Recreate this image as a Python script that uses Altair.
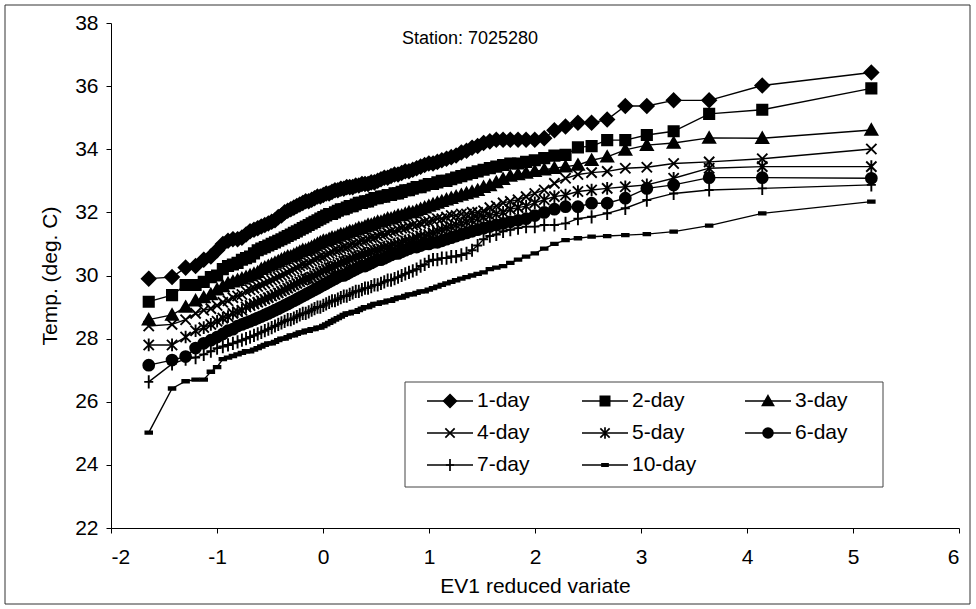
import altair as alt
import pandas as pd

# EV1 reduced variate (plotting positions), same for all series
x_ev1 = [-1.644, -1.424, -1.296, -1.202, -1.125, -1.058, -0.999, -0.945, -0.896, -0.850,
         -0.806, -0.765, -0.726, -0.688, -0.651, -0.616, -0.582, -0.549, -0.516, -0.484,
         -0.453, -0.422, -0.392, -0.362, -0.333, -0.304, -0.275, -0.247, -0.219, -0.191,
         -0.163, -0.135, -0.107, -0.080, -0.052, -0.025, 0.003, 0.030, 0.058, 0.085,
         0.113, 0.140, 0.168, 0.196, 0.224, 0.252, 0.280, 0.309, 0.338, 0.367,
         0.396, 0.425, 0.455, 0.485, 0.516, 0.547, 0.578, 0.610, 0.642, 0.675,
         0.708, 0.742, 0.776, 0.811, 0.847, 0.883, 0.921, 0.959, 0.998, 1.038,
         1.079, 1.121, 1.165, 1.210, 1.256, 1.305, 1.354, 1.406, 1.459, 1.515,
         1.574, 1.635, 1.699, 1.767, 1.840, 1.916, 1.998, 2.087, 2.183, 2.288,
         2.405, 2.534, 2.681, 2.852, 3.055, 3.308, 3.643, 4.144, 5.173]

series_names = ["1-day", "2-day", "3-day", "4-day", "5-day", "6-day", "7-day", "10-day"]

t_1day = [29.9, 29.95, 30.25, 30.3, 30.5, 30.6, 30.8, 31.0, 31.1, 31.15,
          31.15, 31.2, 31.3, 31.4, 31.45, 31.5, 31.55, 31.6, 31.65, 31.7,
          31.75, 31.85, 31.9, 32.0, 32.05, 32.1, 32.15, 32.2, 32.25, 32.3,
          32.35, 32.35, 32.4, 32.45, 32.5, 32.5, 32.55, 32.6, 32.6, 32.65,
          32.7, 32.7, 32.75, 32.75, 32.8, 32.8, 32.8, 32.85, 32.85, 32.9,
          32.9, 32.9, 32.95, 32.95, 33.0, 33.05, 33.1, 33.1, 33.15, 33.2,
          33.2, 33.25, 33.3, 33.3, 33.35, 33.4, 33.45, 33.5, 33.55, 33.55,
          33.6, 33.65, 33.7, 33.75, 33.8, 33.9, 33.95, 34.05, 34.1, 34.2,
          34.25, 34.3, 34.3, 34.3, 34.3, 34.3, 34.3, 34.35, 34.6, 34.72,
          34.84, 34.84, 34.94, 35.37, 35.37, 35.55, 35.55, 36.02, 36.43]

t_2day = [29.17, 29.38, 29.7, 29.7, 29.8, 29.95, 30.0, 30.2, 30.3, 30.35,
          30.4, 30.5, 30.55, 30.6, 30.7, 30.8, 30.85, 30.9, 30.95, 31.0,
          31.05, 31.1, 31.15, 31.2, 31.25, 31.3, 31.35, 31.4, 31.45, 31.5,
          31.55, 31.6, 31.65, 31.7, 31.75, 31.8, 31.85, 31.9, 31.95, 31.95,
          32.0, 32.05, 32.1, 32.1, 32.15, 32.2, 32.2, 32.25, 32.3, 32.3,
          32.35, 32.35, 32.4, 32.45, 32.45, 32.5, 32.5, 32.55, 32.55, 32.6,
          32.6, 32.65, 32.7, 32.7, 32.75, 32.8, 32.8, 32.85, 32.9, 32.9,
          32.95, 33.0, 33.0, 33.05, 33.1, 33.15, 33.2, 33.25, 33.3, 33.35,
          33.4, 33.45, 33.5, 33.55, 33.55, 33.6, 33.65, 33.72, 33.8, 33.82,
          34.06, 34.1, 34.29, 34.29, 34.45, 34.57, 35.12, 35.25, 35.93]

t_3day = [28.6, 28.75, 29.0, 29.2, 29.3, 29.4, 29.55, 29.65, 29.75, 29.8,
          29.85, 29.9, 29.95, 30.0, 30.05, 30.1, 30.2, 30.25, 30.3, 30.35,
          30.4, 30.45, 30.5, 30.55, 30.6, 30.6, 30.65, 30.7, 30.75, 30.8,
          30.8, 30.85, 30.9, 30.95, 31.0, 31.05, 31.1, 31.1, 31.15, 31.2,
          31.2, 31.25, 31.3, 31.3, 31.35, 31.4, 31.4, 31.45, 31.5, 31.5,
          31.55, 31.6, 31.6, 31.65, 31.7, 31.7, 31.75, 31.8, 31.8, 31.85,
          31.9, 31.9, 31.95, 32.0, 32.0, 32.05, 32.1, 32.15, 32.2, 32.25,
          32.3, 32.35, 32.4, 32.45, 32.5, 32.55, 32.6, 32.65, 32.7, 32.8,
          32.85, 32.95, 33.05, 33.15, 33.2, 33.25, 33.3, 33.35, 33.4, 33.45,
          33.5, 33.65, 33.76, 33.98, 34.13, 34.2, 34.36, 34.35, 34.61]

t_4day = [28.4, 28.45, 28.6, 28.8, 28.9, 28.95, 29.05, 29.15, 29.2, 29.3,
          29.35, 29.4, 29.5, 29.55, 29.6, 29.65, 29.7, 29.75, 29.8, 29.85,
          29.9, 29.95, 30.0, 30.05, 30.1, 30.15, 30.2, 30.25, 30.3, 30.35,
          30.35, 30.4, 30.45, 30.5, 30.55, 30.6, 30.6, 30.65, 30.7, 30.75,
          30.8, 30.8, 30.85, 30.9, 30.9, 30.95, 31.0, 31.0, 31.05, 31.1,
          31.1, 31.15, 31.2, 31.2, 31.25, 31.3, 31.3, 31.35, 31.4, 31.4,
          31.45, 31.5, 31.5, 31.55, 31.6, 31.6, 31.65, 31.7, 31.7, 31.75,
          31.8, 31.8, 31.85, 31.9, 31.9, 31.95, 31.95, 32.0, 32.0, 32.05,
          32.15, 32.2, 32.3, 32.35, 32.4, 32.5, 32.6, 32.71, 32.92, 33.08,
          33.2, 33.26, 33.3, 33.4, 33.43, 33.55, 33.6, 33.7, 34.01]

t_5day = [27.8, 27.8, 28.05, 28.25, 28.35, 28.45, 28.55, 28.65, 28.7, 28.8,
          28.85, 28.9, 29.0, 29.05, 29.1, 29.15, 29.2, 29.25, 29.3, 29.35,
          29.4, 29.45, 29.5, 29.55, 29.6, 29.65, 29.7, 29.75, 29.8, 29.85,
          29.9, 29.9, 29.95, 30.0, 30.05, 30.1, 30.15, 30.2, 30.25, 30.25,
          30.3, 30.35, 30.4, 30.45, 30.45, 30.5, 30.55, 30.6, 30.6, 30.65,
          30.7, 30.7, 30.75, 30.8, 30.8, 30.85, 30.9, 30.9, 30.95, 31.0,
          31.0, 31.05, 31.1, 31.1, 31.15, 31.2, 31.25, 31.25, 31.3, 31.35,
          31.4, 31.45, 31.5, 31.55, 31.6, 31.65, 31.7, 31.75, 31.8, 31.85,
          31.9, 31.95, 32.0, 32.1, 32.15, 32.2, 32.3, 32.4, 32.5, 32.55,
          32.66, 32.71, 32.76, 32.81, 32.87, 33.08, 33.4, 33.45, 33.45]

t_6day = [27.16, 27.32, 27.43, 27.7, 27.85, 27.95, 28.05, 28.15, 28.25, 28.3,
          28.4, 28.45, 28.5, 28.55, 28.6, 28.65, 28.7, 28.75, 28.8, 28.85,
          28.9, 28.95, 29.0, 29.05, 29.1, 29.15, 29.2, 29.25, 29.3, 29.35,
          29.4, 29.45, 29.5, 29.55, 29.6, 29.65, 29.7, 29.75, 29.8, 29.85,
          29.9, 29.95, 30.0, 30.0, 30.05, 30.1, 30.15, 30.2, 30.25, 30.3,
          30.3, 30.35, 30.4, 30.45, 30.5, 30.5, 30.55, 30.6, 30.65, 30.7,
          30.7, 30.75, 30.8, 30.85, 30.9, 30.9, 30.95, 31.0, 31.0, 31.05,
          31.05, 31.1, 31.15, 31.2, 31.25, 31.3, 31.35, 31.4, 31.45, 31.5,
          31.55, 31.6, 31.65, 31.7, 31.75, 31.8, 31.9, 32.0, 32.1, 32.18,
          32.18, 32.29, 32.29, 32.45, 32.76, 32.87, 33.1, 33.1, 33.08]

t_7day = [26.63, 27.2, 27.35, 27.4, 27.5, 27.6, 27.7, 27.75, 27.8, 27.85,
          27.9, 27.95, 28.0, 28.05, 28.1, 28.15, 28.2, 28.25, 28.3, 28.35,
          28.4, 28.45, 28.5, 28.55, 28.6, 28.6, 28.65, 28.7, 28.75, 28.8,
          28.8, 28.85, 28.9, 28.95, 29.0, 29.0, 29.05, 29.1, 29.15, 29.2,
          29.2, 29.25, 29.3, 29.35, 29.35, 29.4, 29.45, 29.5, 29.5, 29.55,
          29.6, 29.6, 29.65, 29.7, 29.7, 29.75, 29.8, 29.85, 29.85, 29.9,
          29.95, 30.0, 30.05, 30.1, 30.15, 30.2, 30.3, 30.35, 30.45, 30.5,
          30.5, 30.55, 30.55, 30.6, 30.6, 30.65, 30.7, 30.8, 30.95, 31.15,
          31.25, 31.3, 31.4, 31.45, 31.5, 31.55, 31.55, 31.6, 31.6, 31.65,
          31.8, 31.86, 31.97, 32.13, 32.39, 32.6, 32.71, 32.76, 32.87]

t_10day = [25.02, 26.42, 26.65, 26.7, 26.7, 26.95, 27.1, 27.35, 27.4, 27.45,
           27.5, 27.55, 27.6, 27.6, 27.65, 27.7, 27.75, 27.8, 27.85, 27.85,
           27.9, 27.95, 28.0, 28.0, 28.05, 28.1, 28.1, 28.15, 28.2, 28.2,
           28.25, 28.25, 28.3, 28.3, 28.35, 28.35, 28.4, 28.45, 28.5, 28.55,
           28.6, 28.65, 28.7, 28.75, 28.8, 28.8, 28.85, 28.85, 28.9, 28.95,
           29.0, 29.0, 29.05, 29.1, 29.1, 29.15, 29.15, 29.2, 29.2, 29.25,
           29.3, 29.3, 29.35, 29.4, 29.4, 29.45, 29.5, 29.5, 29.55, 29.6,
           29.65, 29.7, 29.75, 29.8, 29.85, 29.9, 29.95, 30.0, 30.05, 30.1,
           30.2, 30.25, 30.3, 30.4, 30.5, 30.6, 30.7, 30.85, 31.0, 31.12,
           31.18, 31.23, 31.25, 31.28, 31.31, 31.39, 31.58, 31.97, 32.34]

all_series = [t_1day, t_2day, t_3day, t_4day, t_5day, t_6day, t_7day, t_10day]

rows = []
for name, ys in zip(series_names, all_series):
    for i, (xv, yv) in enumerate(zip(x_ev1, ys)):
        rows.append({"series": name, "order": i, "x": xv, "y": yv})
df = pd.DataFrame(rows)

FONT = "Liberation Sans"

# marker shapes (Excel-like): diamond, square, triangle, x, asterisk, circle, plus, dash
shape_range = [
    "M0,-1.15L1.15,0L0,1.15L-1.15,0Z",
    "M-0.85,-0.85H0.85V0.85H-0.85Z",
    "M0,-0.95L1,0.8H-1Z",
    "M-0.85,-0.85L0.85,0.85M-0.85,0.85L0.85,-0.85",
    "M-0.85,-0.85L0.85,0.85M-0.85,0.85L0.85,-0.85M0,-1.05V1.05",
    "M-0.9,0A0.9,0.9,0,1,1,0.9,0A0.9,0.9,0,1,1,-0.9,0Z",
    "M-0.75,0H0.75M0,-1.1V1.1",
    "M-0.55,-0.2H0.55V0.2H-0.55Z",
]
shape_scale = alt.Scale(domain=series_names, range=shape_range)

x_enc = alt.X("x:Q", scale=alt.Scale(domain=[-2, 6], nice=False),
              axis=alt.Axis(values=list(range(-2, 7)), labelExpr="'' + datum.value",
                            title="EV1 reduced variate", labelPadding=13, titlePadding=8))
y_enc = alt.Y("y:Q", scale=alt.Scale(domain=[22, 38], nice=False),
              axis=alt.Axis(values=list(range(22, 39, 2)), labelExpr="'' + datum.value",
                            title="Temp. (deg. C)", labelPadding=8, titlePadding=14))

base = alt.Chart(df)
lines = base.mark_line(color="black", strokeWidth=1.4).encode(
    x=x_enc, y=y_enc, detail="series:N", order="order:Q")
points = base.mark_point(filled=True, fill="black", stroke="black", strokeWidth=1.9,
                         size=145, opacity=1).encode(
    x="x:Q", y="y:Q", shape=alt.Shape("series:N", scale=shape_scale, legend=None))

one = alt.Data(values=[{"k": 1}])

frame = alt.Chart(one).mark_rect(fill="transparent", stroke="#333", strokeWidth=1).encode(
    x=alt.value(-106), x2=alt.value(859), y=alt.value(-18), y2=alt.value(581))

title = alt.Chart(one).mark_text(font=FONT, fontSize=18, color="black").encode(
    x=alt.value(359), y=alt.value(16), text=alt.value("Station: 7025280"))

# legend (manual, Excel style: line through marker, 3 columns)
leg = pd.DataFrame({"series": series_names, "idx": list(range(len(series_names)))})
leg_base = alt.Chart(leg).transform_calculate(
    col="datum.idx % 3", row="floor(datum.idx / 3)"
).transform_calculate(
    lx="[339, 494, 657][datum.col]", ly="378 + datum.row * 32"
).transform_calculate(
    lx1="datum.lx - 23", lx2="datum.lx + 23", tx="datum.lx + 27"
)

legend_box = alt.Chart(one).mark_rect(fill="white", stroke="#444", strokeWidth=1).encode(
    x=alt.value(294), x2=alt.value(772), y=alt.value(359), y2=alt.value(464))
legend_rules = leg_base.mark_rule(color="black", strokeWidth=1.4).encode(
    x=alt.X("lx1:Q", scale=None), x2="lx2:Q", y=alt.Y("ly:Q", scale=None))
legend_pts = leg_base.mark_point(filled=True, fill="black", stroke="black", strokeWidth=1.7,
                                 size=120, opacity=1).encode(
    x=alt.X("lx:Q", scale=None), y=alt.Y("ly:Q", scale=None),
    shape=alt.Shape("series:N", scale=shape_scale, legend=None))
legend_text = leg_base.mark_text(font=FONT, fontSize=21, align="left", baseline="middle",
                                 color="black").encode(
    x=alt.X("tx:Q", scale=None), y=alt.Y("ly:Q", scale=None), text="series:N")

chart = alt.layer(
    frame, lines, points, title, legend_box, legend_rules, legend_pts, legend_text
).properties(
    width=848, height=505,
    padding={"left": 111, "top": 23, "right": 17, "bottom": 81},
    autosize=alt.AutoSizeParams(type="none"),
    background="white",
).configure_view(stroke=None).configure_axis(
    grid=False, domainColor="black", tickColor="black", tickSize=5,
    labelFont=FONT, labelFontSize=21, labelColor="black",
    titleFont=FONT, titleFontSize=21, titleFontWeight="normal", titleColor="black",
)

chart.save("out.html", embed_options={"renderer": "svg", "actions": False})
